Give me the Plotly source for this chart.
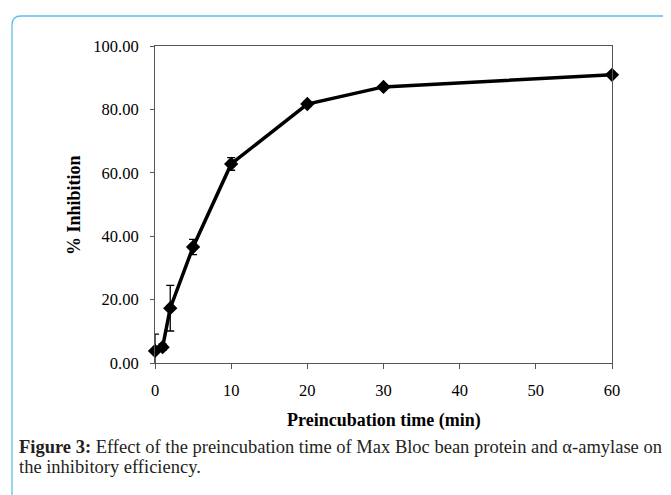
import plotly.graph_objects as go

time_min = [0, 1, 2, 5, 10, 20, 30, 60]
inhibition = [3.8, 5.0, 17.3, 36.6, 62.8, 81.7, 87.1, 90.9]
err_sd = [5.3, 1.0, 7.2, 2.4, 2.0, 0.8, 0.6, 0.6]
x_ticks = [0, 10, 20, 30, 40, 50, 60]
y_ticks = [0, 20, 40, 60, 80, 100]
y_tick_labels = ["0.00", "20.00", "40.00", "60.00", "80.00", "100.00"]

W, H = 671, 495
OFF = 8  # page body margin offset
L, T = 155 - OFF, 46 - OFF
pw, ph = 457, 317
R, B = W - L - pw, H - T - ph

def px(x):
    return (x - OFF - L) / pw

def py(y):
    return (T + ph - (y - OFF)) / ph

serif = "Liberation Serif, Times New Roman, serif"

fig = go.Figure()
fig.add_trace(go.Scatter(
    x=time_min, y=inhibition,
    mode="lines+markers",
    line=dict(color="black", width=3.5),
    marker=dict(symbol="diamond", size=11, color="black"),
    error_y=dict(type="data", array=err_sd, visible=True, color="black", thickness=1.3, width=4),
    cliponaxis=False,
    showlegend=False,
))

# rounded light-blue frame
x0, y0 = px(12), py(16)
x1, y1 = px(720), py(540)
rx, ry = 9 / pw, 9 / ph
path = (f"M {x0},{y1} L {x0},{y0 - ry} Q {x0},{y0} {x0 + rx},{y0} "
        f"L {x1},{y0}")
fig.add_shape(type="path", xref="paper", yref="paper", path=path,
              line=dict(color="#5cc0ec", width=1.3))

cap_font = dict(family=serif, size=18.5, color="#231f20")
fig.add_annotation(
    xref="paper", yref="paper", x=px(17), y=py(447), xanchor="left", yanchor="middle",
    showarrow=False,
    text="<b>Figure 3:</b> Effect of the preincubation time of Max Bloc bean protein and α-amylase on",
    font=cap_font,
)
fig.add_annotation(
    xref="paper", yref="paper", x=px(17), y=py(467), xanchor="left", yanchor="middle",
    showarrow=False,
    text="the inhibitory efficiency.",
    font=cap_font,
)
fig.add_annotation(
    xref="paper", yref="paper", x=px(384), y=py(420), xanchor="center", yanchor="middle",
    showarrow=False, text="<b>Preincubation time (min)</b>",
    font=dict(family=serif, size=18, color="black"),
)
fig.add_annotation(
    xref="paper", yref="paper", x=px(74), y=py(205), xanchor="center", yanchor="middle",
    showarrow=False, textangle=-90, text="<b>% Inhibition</b>",
    font=dict(family=serif, size=18, color="black"),
)

fig.update_layout(
    width=W, height=H,
    margin=dict(l=L, r=R, t=T, b=B),
    paper_bgcolor="white", plot_bgcolor="white",
    font=dict(family=serif, color="black"),
    xaxis=dict(
        range=[0, 60], tickvals=x_ticks, ticks="outside", ticklen=5, tickcolor="#555",
        showline=True, linecolor="#555", linewidth=1, mirror=True, showgrid=False, zeroline=False,
        tickfont=dict(family=serif, size=16.5), ticklabelstandoff=7,
    ),
    yaxis=dict(
        range=[0, 100], tickvals=y_ticks, ticktext=y_tick_labels, ticks="outside", ticklen=4, tickcolor="#555",
        showline=True, linecolor="#555", linewidth=1, mirror=True, showgrid=False, zeroline=False,
        tickfont=dict(family=serif, size=16.5), ticklabelstandoff=8,
    ),
)

fig.write_html("out.html")
